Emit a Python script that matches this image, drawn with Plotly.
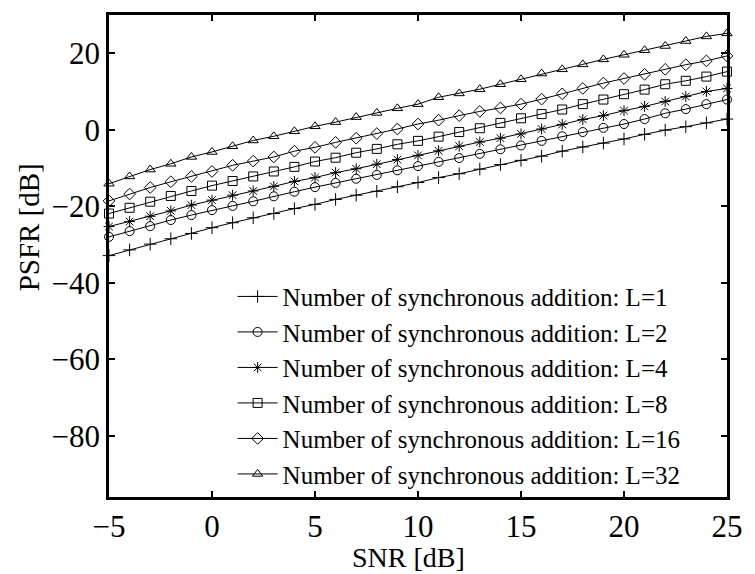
import plotly.graph_objects as go

# SNR grid [dB]
snr = list(range(-5, 26))

# PSFR [dB] for each number of synchronous additions L
psfr_l1 = [-32.9, -31.4, -29.9, -28.5, -27.1, -25.6, -24.3, -23.0, -21.9, -20.6,
           -19.5, -18.2, -17.1, -16.1, -14.9, -13.8, -12.5, -11.5, -10.3, -9.1,
           -8.0, -6.9, -5.6, -4.5, -3.5, -2.4, -1.2, -0.1, 0.8, 1.8, 2.8]
psfr_l2 = [-28.0, -26.5, -25.2, -23.6, -22.3, -21.0, -19.9, -18.7, -17.4, -16.2,
           -15.0, -13.9, -12.8, -11.8, -10.6, -9.5, -8.4, -7.4, -6.3, -5.1,
           -4.1, -2.9, -1.7, -0.6, 0.5, 1.5, 2.8, 4.3, 5.4, 6.7, 7.9]
psfr_l4 = [-25.3, -24.0, -22.6, -21.2, -19.7, -18.4, -17.1, -16.0, -14.8, -13.5,
           -12.5, -11.2, -10.2, -9.0, -7.8, -6.7, -5.5, -4.3, -3.2, -2.2,
           -1.1, 0.2, 1.4, 2.7, 3.7, 5.0, 6.1, 7.4, 8.7, 10.0, 10.8]
psfr_l8 = [-21.9, -20.4, -18.8, -17.3, -16.0, -14.6, -13.4, -12.2, -10.9, -9.7,
           -8.3, -7.3, -6.0, -5.0, -3.8, -2.9, -1.8, -0.6, 0.4, 1.8,
           3.0, 4.1, 5.3, 6.7, 7.9, 9.3, 10.5, 11.9, 12.8, 13.9, 15.2]
psfr_l16 = [-18.6, -16.8, -15.1, -13.6, -12.2, -10.9, -9.3, -8.2, -7.1, -5.6,
            -4.6, -3.3, -2.2, -1.0, 0.2, 1.5, 2.5, 3.7, 4.8, 5.7,
            6.7, 8.0, 9.4, 10.8, 12.2, 13.4, 14.5, 15.8, 17.0, 18.0, 19.3]
psfr_l32 = [-14.1, -12.2, -10.4, -8.9, -7.1, -5.8, -4.3, -2.8, -1.7, -0.4,
            0.9, 2.0, 3.3, 4.4, 5.6, 6.7, 8.5, 9.5, 10.6, 11.9,
            13.2, 14.7, 15.8, 17.1, 18.4, 19.6, 20.8, 21.9, 23.2, 24.4, 25.2]

labels = ["Number of synchronous addition: L=1",
          "Number of synchronous addition: L=2",
          "Number of synchronous addition: L=4",
          "Number of synchronous addition: L=8",
          "Number of synchronous addition: L=16",
          "Number of synchronous addition: L=32"]
series = [psfr_l1, psfr_l2, psfr_l4, psfr_l8, psfr_l16, psfr_l32]
symbols = ["cross-thin-open", "circle-open", "asterisk-open",
           "square-open", "diamond-open", "triangle-up-open"]

x_ticks = [-5, 0, 5, 10, 15, 20, 25]
y_ticks = [-80, -60, -40, -20, 0, 20]

SERIF = "Liberation Serif, Times New Roman, serif"

fig = go.Figure()
for name, ys, sym in zip(labels, series, symbols):
    fig.add_trace(go.Scatter(
        x=snr, y=ys, name=name, mode="lines+markers", cliponaxis=False,
        line=dict(color="black", width=1),
        marker=dict(symbol=sym, size=9, color="black",
                    line=dict(color="black", width=1)),
    ))

axis_common = dict(
    showline=True, linecolor="black", linewidth=2.5, mirror="ticks",
    ticks="inside", ticklen=6, tickwidth=2, tickcolor="black",
    showgrid=False, zeroline=False,
    tickfont=dict(family=SERIF, size=31, color="black"),
)

fig.update_xaxes(range=[-5, 25], tickvals=x_ticks, **axis_common)
fig.update_yaxes(range=[-96, 30], tickvals=y_ticks, **axis_common)

# axis titles
fig.add_annotation(text="SNR [dB]", xref="paper", yref="paper",
                   x=0.485, y=-0.126, xanchor="center", yanchor="middle",
                   showarrow=False,
                   font=dict(family=SERIF, size=28, color="black"))
fig.add_annotation(text="PSFR [dB]", xref="paper", yref="paper",
                   x=-0.129, y=0.56, xanchor="center", yanchor="middle",
                   textangle=-90, showarrow=False,
                   font=dict(family=SERIF, size=29, color="black"))

fig.update_layout(
    width=755, height=574,
    margin=dict(l=109, r=20, t=12, b=77),
    plot_bgcolor="white", paper_bgcolor="white",
    showlegend=True,
    legend=dict(x=0.200, y=0.232, xanchor="left", yanchor="middle",
                bgcolor="rgba(0,0,0,0)", borderwidth=0,
                font=dict(family=SERIF, size=25, color="black"),
                itemwidth=40, tracegroupgap=0),
)

fig.write_html("out.html")
